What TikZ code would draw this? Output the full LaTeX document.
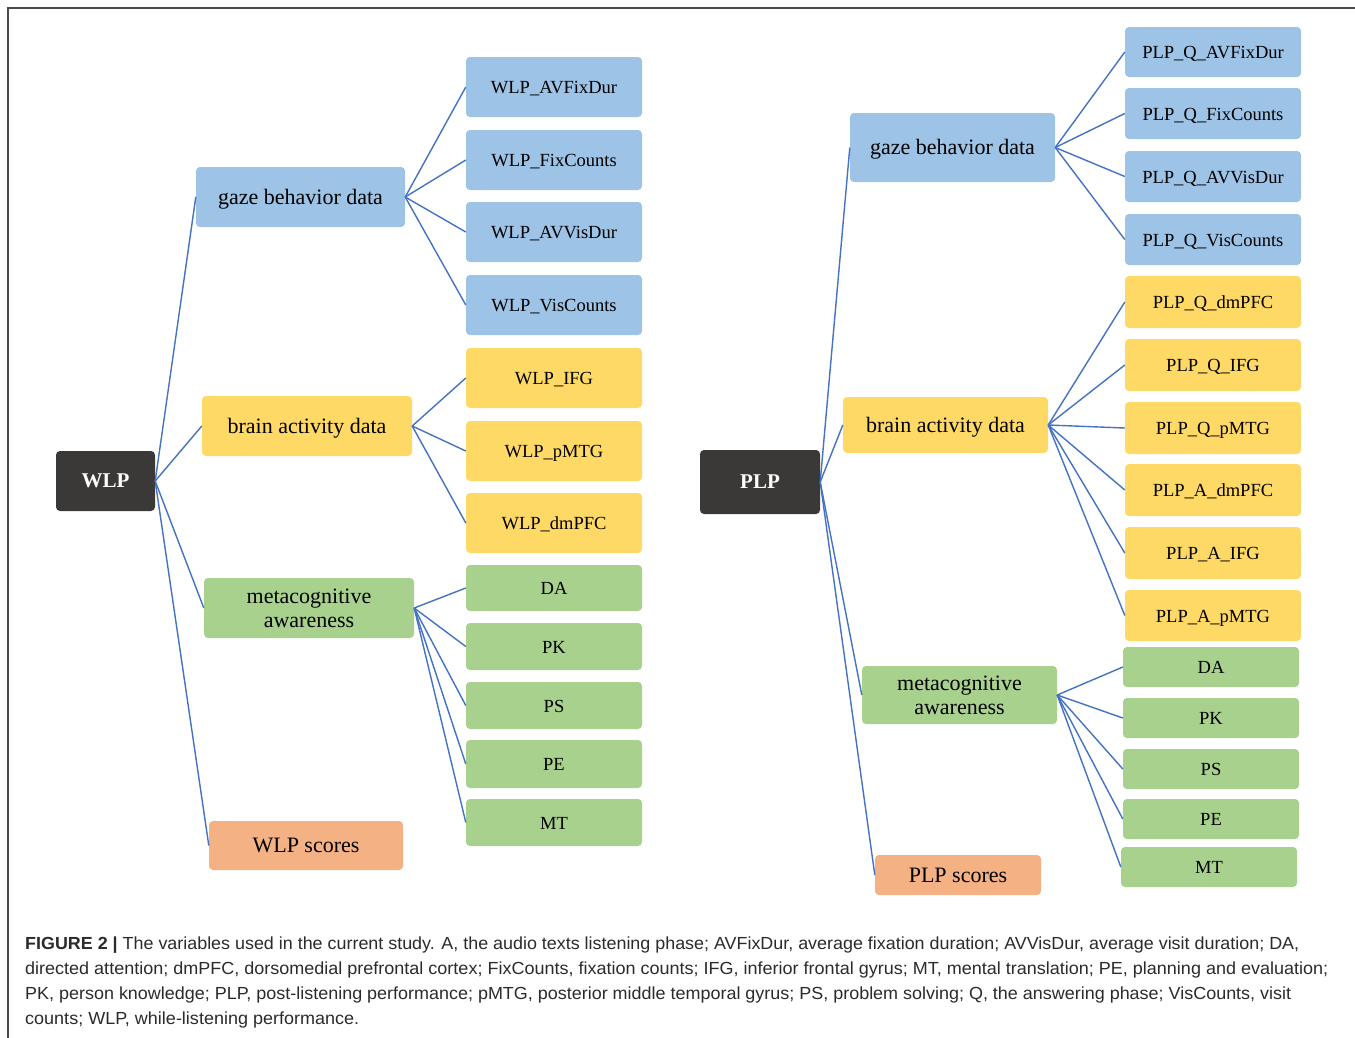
\documentclass[tikz,border=0pt]{standalone}
\usepackage{fontspec}
\setmainfont{Liberation Serif}
\newfontfamily\capfont{Liberation Sans}
\definecolor{bbox}{HTML}{9DC3E6}
\definecolor{ybox}{HTML}{FFD966}
\definecolor{gbox}{HTML}{A9D18E}
\definecolor{obox}{HTML}{F4B183}
\definecolor{dbox}{HTML}{3B3838}
\definecolor{linkc}{HTML}{4472C4}
\definecolor{capc}{HTML}{2B2B2B}
\definecolor{framec}{HTML}{4A4A4A}
\begin{document}
\begin{tikzpicture}[x=1pt,y=-1pt,
  box/.style={rounded corners=4pt, inner sep=0pt, align=center, text=black},
  kid/.style={box, font=\fontsize{18.5}{20}\selectfont, text height=15pt, text depth=2pt},
  mid/.style={box, font=\fontsize{22}{24}\selectfont, text height=18pt, text depth=4pt},
  mid2/.style={box, font=\fontsize{22}{24}\selectfont},
  rootbox/.style={box, fill=dbox, text=white, font=\fontsize{21}{24}\selectfont\bfseries},
  bl/.style={fill=bbox}, ye/.style={fill=ybox}, gr/.style={fill=gbox}, orng/.style={fill=obox},
  conn/.style={draw=linkc, line width=1.4pt},
  capline/.style={anchor=base west, inner sep=0pt, text=capc, font=\capfont\fontsize{17.5}{25}\selectfont}]
\useasboundingbox (0,0) rectangle (1355,1037);
\fill[white] (0,0) rectangle (1355,1037);
\draw[framec, line width=1.3pt] (8,1040) -- (8,8) -- (1360,8);

% ---------- left tree ----------
\node[rootbox, minimum width=99pt, minimum height=60pt] (wlp) at (105.5,481) {WLP};
\node[mid, bl, minimum width=209pt, minimum height=60pt] (lg) at (300.5,197) {gaze behavior data};
\node[mid, ye, minimum width=210pt, minimum height=60pt] (lb) at (307,426) {brain activity data};
\node[mid2, gr, minimum width=210pt, minimum height=60pt] (lm) at (309,608) {metacognitive\\awareness};
\node[mid, orng, minimum width=194pt, minimum height=49pt] (ls) at (306,845.5) {WLP scores};

\node[kid, bl, minimum width=176pt, minimum height=60pt] (lg1) at (554,87) {WLP\_AVFixDur};
\node[kid, bl, minimum width=176pt, minimum height=60pt] (lg2) at (554,160) {WLP\_FixCounts};
\node[kid, bl, minimum width=176pt, minimum height=60pt] (lg3) at (554,232) {WLP\_AVVisDur};
\node[kid, bl, minimum width=176pt, minimum height=60pt] (lg4) at (554,305) {WLP\_VisCounts};
\node[kid, ye, minimum width=176pt, minimum height=60pt] (lb1) at (554,378) {WLP\_IFG};
\node[kid, ye, minimum width=176pt, minimum height=60pt] (lb2) at (554,451) {WLP\_pMTG};
\node[kid, ye, minimum width=176pt, minimum height=60pt] (lb3) at (554,523) {WLP\_dmPFC};
\node[kid, gr, minimum width=176pt, minimum height=46pt] (lm1) at (554,588) {DA};
\node[kid, gr, minimum width=176pt, minimum height=47pt] (lm2) at (554,646.5) {PK};
\node[kid, gr, minimum width=176pt, minimum height=47pt] (lm3) at (554,705.5) {PS};
\node[kid, gr, minimum width=176pt, minimum height=48pt] (lm4) at (554,764) {PE};
\node[kid, gr, minimum width=176pt, minimum height=47pt] (lm5) at (554,822.5) {MT};

\foreach \t in {lg,lb,lm,ls} \draw[conn] (wlp.east) -- (\t.west);
\foreach \t in {lg1,lg2,lg3,lg4} \draw[conn] (lg.east) -- (\t.west);
\foreach \t in {lb1,lb2,lb3} \draw[conn] (lb.east) -- (\t.west);
\foreach \t in {lm1,lm2,lm3,lm4,lm5} \draw[conn] (lm.east) -- (\t.west);

% ---------- right tree ----------
\node[rootbox, minimum width=120pt, minimum height=64pt] (plp) at (760,482) {PLP};
\node[mid, bl, minimum width=205pt, minimum height=69pt] (rg) at (952.5,147.5) {gaze behavior data};
\node[mid, ye, minimum width=205pt, minimum height=56pt] (rb) at (945.5,425) {brain activity data};
\node[mid2, gr, minimum width=195pt, minimum height=58pt] (rm) at (959.5,695) {metacognitive\\awareness};
\node[mid, orng, minimum width=166pt, minimum height=40pt] (rs) at (958,875) {PLP scores};

\node[kid, bl, minimum width=176pt, minimum height=50pt] (rg1) at (1213,52) {PLP\_Q\_AVFixDur};
\node[kid, bl, minimum width=176pt, minimum height=51pt] (rg2) at (1213,113.5) {PLP\_Q\_FixCounts};
\node[kid, bl, minimum width=176pt, minimum height=51pt] (rg3) at (1213,176.5) {PLP\_Q\_AVVisDur};
\node[kid, bl, minimum width=176pt, minimum height=51pt] (rg4) at (1213,239.5) {PLP\_Q\_VisCounts};
\node[kid, ye, minimum width=176pt, minimum height=52pt] (rb1) at (1213,302) {PLP\_Q\_dmPFC};
\node[kid, ye, minimum width=176pt, minimum height=52pt] (rb2) at (1213,365) {PLP\_Q\_IFG};
\node[kid, ye, minimum width=176pt, minimum height=52pt] (rb3) at (1213,428) {PLP\_Q\_pMTG};
\node[kid, ye, minimum width=176pt, minimum height=52pt] (rb4) at (1213,490) {PLP\_A\_dmPFC};
\node[kid, ye, minimum width=176pt, minimum height=52pt] (rb5) at (1213,553) {PLP\_A\_IFG};
\node[kid, ye, minimum width=176pt, minimum height=51pt] (rb6) at (1213,615.5) {PLP\_A\_pMTG};
\node[kid, gr, minimum width=176pt, minimum height=40pt] (rm1) at (1211,667) {DA};
\node[kid, gr, minimum width=176pt, minimum height=40pt] (rm2) at (1211,718) {PK};
\node[kid, gr, minimum width=176pt, minimum height=40pt] (rm3) at (1211,769) {PS};
\node[kid, gr, minimum width=176pt, minimum height=40pt] (rm4) at (1211,819) {PE};
\node[kid, gr, minimum width=176pt, minimum height=40pt] (rm5) at (1209,867) {MT};

\foreach \t in {rg,rb,rm,rs} \draw[conn] (plp.east) -- (\t.west);
\foreach \t in {rg1,rg2,rg3,rg4} \draw[conn] (rg.east) -- (\t.west);
\foreach \t in {rb1,rb2,rb3,rb4,rb5,rb6} \draw[conn] (rb.east) -- (\t.west);
\foreach \t in {rm1,rm2,rm3,rm4,rm5} \draw[conn] (rm.east) -- (\t.west);

% ---------- caption ----------
\node[capline] (c1) at (25,949) {\resizebox{1274pt}{\height}{\textbf{FIGURE 2 |} The variables used in the current study. A, the audio texts listening phase; AVFixDur, average fixation duration; AVVisDur, average visit duration; DA,}};
\node[capline] (c2) at (25,974) {\resizebox{1303pt}{\height}{directed attention; dmPFC, dorsomedial prefrontal cortex; FixCounts, fixation counts; IFG, inferior frontal gyrus; MT, mental translation; PE, planning and evaluation;}};
\node[capline] (c3) at (25,999) {\resizebox{1266pt}{\height}{PK, person knowledge; PLP, post-listening performance; pMTG, posterior middle temporal gyrus; PS, problem solving; Q, the answering phase; VisCounts, visit}};
\node[capline] (c4) at (25,1024) {\resizebox{334pt}{\height}{counts; WLP, while-listening performance.}};
\end{tikzpicture}
\end{document}
